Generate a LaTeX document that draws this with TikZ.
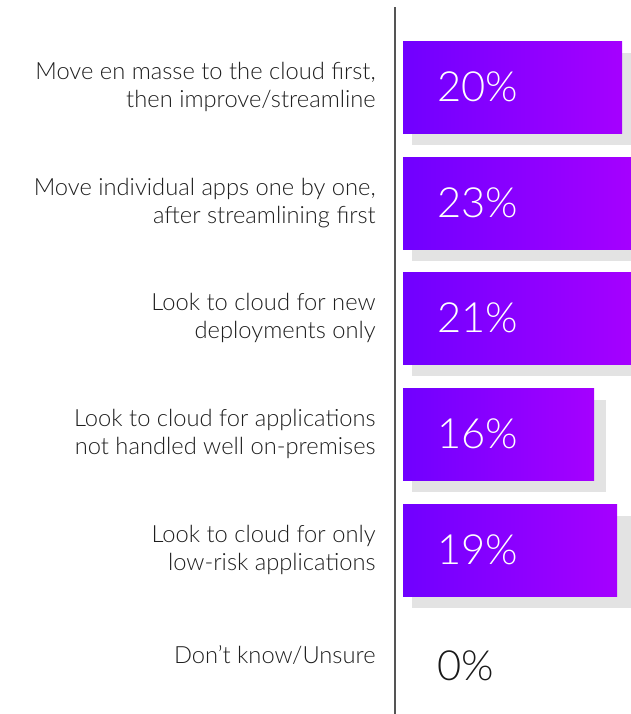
\documentclass[tikz,border=0pt]{standalone}
\usepackage{fontspec}
\setmainfont{Lato}
\newfontfamily\thinfont{Lato Light}
\definecolor{barleft}{RGB}{112,0,255}
\definecolor{barright}{RGB}{165,0,255}
\definecolor{shadowgray}{RGB}{227,227,227}
\definecolor{labelgray}{RGB}{30,30,30}
\definecolor{axisgray}{RGB}{85,85,85}

\begin{document}
\begin{tikzpicture}[x=0.02cm,y=-0.02cm,
    catlabel/.style={anchor=east, align=right, text=labelgray, inner sep=0,
      font=\thinfont\fontsize{13.5}{16.4}\selectfont},
    pct/.style={anchor=west, text=white, inner sep=0,
      font=\thinfont\fontsize{23.7}{28}\selectfont},
    bar/.style={left color=barleft, right color=barright},
    barshadow/.style={fill=shadowgray}]
  \useasboundingbox (0,0) rectangle (631,714);
  \coordinate (axtop) at (395,7);
  \coordinate (axbot) at (395,714);
  % one row per answer: top edge / bar width / shadow width / value / label
  \foreach \i/\ty/\bw/\sw/\val/\txt in {
      1/41/219/219/20/{Move en masse to the cloud first,\\ then improve/streamline},
      2/157/228/219/23/{Move individual apps one by one,\\ after streamlining first},
      3/272/228/219/21/{Look to cloud for new\\ deployments only},
      4/388/191/194/16/{Look to cloud for applications\\ not handled well on-premises},
      5/504/214/219/19/{Look to cloud for only\\ low-risk applications}}{
    \fill[barshadow] (412,\ty+12) rectangle (412+\sw,\ty+104);
    \path[bar] (403,\ty) rectangle (403+\bw,\ty+92);
    \node[pct] (val\i) at (437,\ty+46) {\val\%};
    \node[catlabel] (cat\i) at (376,\ty+46) {\txt};
  }
  \node[catlabel] (cat6) at (376,655) {Don’t know/Unsure};
  \node[pct, text=black!90] (val6) at (437,666) {0\%};
  \draw[axisgray, line width=1.1pt] (axtop) -- (axbot);
\end{tikzpicture}
\end{document}
